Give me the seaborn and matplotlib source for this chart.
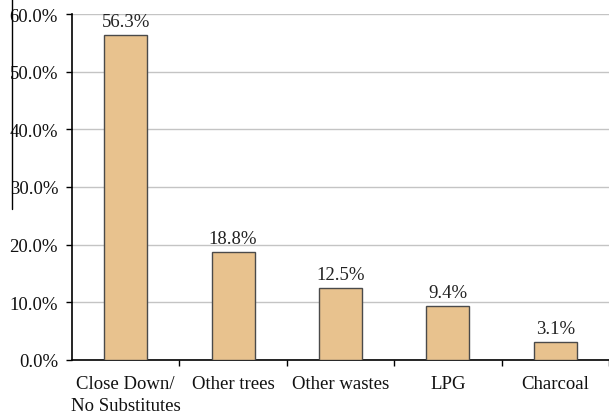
import matplotlib
matplotlib.use("Agg")
import matplotlib.pyplot as plt
from matplotlib.lines import Line2D
from matplotlib.ticker import FuncFormatter, MultipleLocator, FixedLocator
import seaborn as sns
import pandas as pd

categories = ["Close Down/\nNo Substitutes", "Other trees", "Other wastes", "LPG", "Charcoal"]
shares = [56.3, 18.8, 12.5, 9.4, 3.1]

sns.set_style("white")
plt.rcParams["font.family"] = ["Liberation Serif", "DejaVu Serif"]

df = pd.DataFrame({"category": categories, "share": shares})

fig = plt.figure(figsize=(6.09, 4.14), dpi=100)
ax = fig.add_axes([72 / 609, 1 - 361 / 414, 1 - 72 / 609, (361 - 15) / 414])

sns.barplot(data=df, x="category", y="share", color="#E8C28E", width=0.4,
            edgecolor="#4a4a4a", linewidth=1.0, saturation=1, ax=ax, zorder=3)

for i, v in enumerate(shares):
    ax.annotate(f"{v:.1f}%", xy=(i, v), xytext=(0, 3.5), textcoords="offset points",
                ha="center", va="bottom", fontsize=13.5, color="#222222")

ax.set_ylim(0, 60)
ax.set_xlim(-0.5, 4.5)
ax.yaxis.set_major_locator(MultipleLocator(10))
ax.yaxis.set_major_formatter(FuncFormatter(lambda v, p: f"{v:.1f}%"))
ax.grid(axis="y", color="#c4c4c4", linewidth=1.0, zorder=0)
ax.set_axisbelow(True)

ax.xaxis.set_minor_locator(FixedLocator([i + 0.5 for i in range(len(categories))]))
ax.tick_params(axis="x", which="major", length=0, pad=11, labelsize=13.5, labelcolor="#111111")
ax.tick_params(axis="x", which="minor", length=4, width=1, color="black", direction="out", bottom=True)
ax.tick_params(axis="y", which="major", length=4, width=1, color="black", direction="out",
               left=True, labelsize=13.5, labelcolor="#111111", pad=6)
for lbl in ax.get_xticklabels():
    lbl.set_linespacing(1.35)

for s in ["top", "right"]:
    ax.spines[s].set_visible(False)
for s in ["left", "bottom"]:
    ax.spines[s].set_color("black")
    ax.spines[s].set_linewidth(1.2)

ax.set_xlabel("")
ax.set_ylabel("")

# thin vertical rule at the left margin
fig.add_artist(Line2D([12 / 609, 12 / 609], [1.0, 1 - 210 / 414], transform=fig.transFigure,
                      color="black", linewidth=1.0))

fig.savefig("out.png", dpi=100)
